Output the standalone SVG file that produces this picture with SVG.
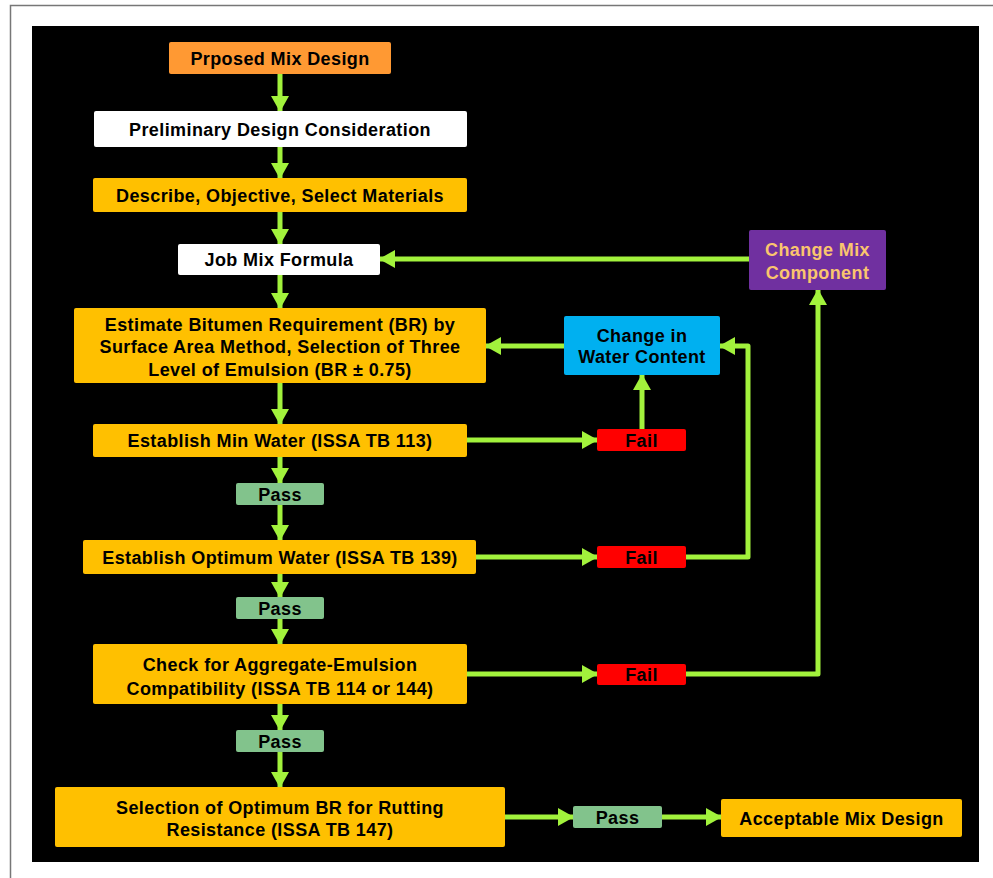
<svg xmlns="http://www.w3.org/2000/svg" width="993" height="878" viewBox="0 0 993 878">
<defs>
<style>
.t{font-family:"Liberation Sans",Arial,sans-serif;font-weight:bold;font-size:18px;fill:#000;text-anchor:middle;letter-spacing:0.4px}
.n{stroke:none}
.c{fill:none;stroke:#A2F23C;stroke-width:5;stroke-linejoin:round}
</style>
<marker id="ah" markerUnits="userSpaceOnUse" markerWidth="18" markerHeight="18" viewBox="0 0 16 18" refX="15" refY="9" orient="auto">
<path d="M0,0 L16,9 L0,18 Z" fill="#A2F23C"/>
</marker>
</defs>
<rect x="0" y="0" width="993" height="878" fill="#fff"/>
<path d="M10.5,878 V5.5 H993" fill="none" stroke="#777" stroke-width="1.5"/>
<rect x="32" y="26" width="947" height="836" fill="#000"/>

<g id="connectors">
<path class="c" d="M280,74 V111" marker-end="url(#ah)"/>
<path class="c" d="M280,147 V178" marker-end="url(#ah)"/>
<path class="c" d="M280,212 V244" marker-end="url(#ah)"/>
<path class="c" d="M280,275 V308" marker-end="url(#ah)"/>
<path class="c" d="M280,383 V424" marker-end="url(#ah)"/>
<path class="c" d="M280,457 V483" marker-end="url(#ah)"/>
<path class="c" d="M280,505 V540" marker-end="url(#ah)"/>
<path class="c" d="M280,574 V597" marker-end="url(#ah)"/>
<path class="c" d="M280,619 V644" marker-end="url(#ah)"/>
<path class="c" d="M280,704 V730" marker-end="url(#ah)"/>
<path class="c" d="M280,752 V787" marker-end="url(#ah)"/>
<path class="c" d="M749,259 H380" marker-end="url(#ah)"/>
<path class="c" d="M564,346 H486" marker-end="url(#ah)"/>
<path class="c" d="M467,440 H597" marker-end="url(#ah)"/>
<path class="c" d="M642,429 V375" marker-end="url(#ah)"/>
<path class="c" d="M476,557 H597" marker-end="url(#ah)"/>
<path class="c" d="M686,557 H748 V346 H720" marker-end="url(#ah)"/>
<path class="c" d="M467,674 H597" marker-end="url(#ah)"/>
<path class="c" d="M686,674 H818 V290" marker-end="url(#ah)"/>
<path class="c" d="M505,817 H573" marker-end="url(#ah)"/>
<path class="c" d="M662,817 H721" marker-end="url(#ah)"/>
</g>

<g id="proposed"><rect x="169" y="42" width="222" height="32" rx="2" fill="#FF9933"/><text class="t" x="280" y="64.5">Prposed Mix Design</text></g>
<g id="preliminary"><rect x="94" y="111" width="373" height="36" rx="2" fill="#fff"/><text class="t" x="280" y="135.5">Preliminary Design Consideration</text></g>
<g id="describe"><rect x="93" y="178" width="374" height="34" rx="2" fill="#FFC000"/><text class="t" x="280" y="201.5">Describe, Objective, Select Materials</text></g>
<g id="jobmix"><rect x="178" y="244" width="202" height="31" rx="2" fill="#fff"/><text class="t" x="279" y="266">Job Mix Formula</text></g>
<g id="estimate"><rect x="74" y="308" width="412" height="75" rx="2" fill="#FFC000"/><text class="t" x="280" y="330.5">Estimate Bitumen Requirement (BR) by</text><text class="t" x="280" y="353">Surface Area Method, Selection of Three</text><text class="t" x="280" y="375.5">Level of Emulsion (BR ± 0.75)</text></g>
<g id="minwater"><rect x="93" y="424" width="374" height="33" rx="2" fill="#FFC000"/><text class="t" x="280" y="447">Establish Min Water (ISSA TB 113)</text></g>
<g id="pass1"><rect x="236" y="483" width="88" height="22" rx="2" fill="#82C38C"/><text class="t" x="280" y="500.5">Pass</text></g>
<g id="optwater"><rect x="83" y="540" width="393" height="34" rx="2" fill="#FFC000"/><text class="t" x="280" y="563.5">Establish Optimum Water (ISSA TB 139)</text></g>
<g id="pass2"><rect x="236" y="597" width="88" height="22" rx="2" fill="#82C38C"/><text class="t" x="280" y="614.5">Pass</text></g>
<g id="check"><rect x="93" y="644" width="374" height="60" rx="2" fill="#FFC000"/><text class="t" x="280" y="670.5">Check for Aggregate-Emulsion</text><text class="t" x="280" y="694.5">Compatibility (ISSA TB 114 or 144)</text></g>
<g id="pass3"><rect x="236" y="730" width="88" height="22" rx="2" fill="#82C38C"/><text class="t" x="280" y="747.5">Pass</text></g>
<g id="selection"><rect x="55" y="787" width="450" height="60" rx="2" fill="#FFC000"/><text class="t" x="280" y="813.5">Selection of Optimum BR for Rutting</text><text class="t" x="280" y="835.5">Resistance (ISSA TB 147)</text></g>
<g id="pass4"><rect x="573" y="806" width="89" height="22" rx="2" fill="#82C38C"/><text class="t" x="617.5" y="823.5">Pass</text></g>
<g id="acceptable"><rect x="721" y="799" width="241" height="38" rx="2" fill="#FFC000"/><text class="t" x="841.5" y="824.5">Acceptable Mix Design</text></g>
<g id="changemix"><rect x="749" y="230" width="137" height="60" rx="2" fill="#7030A0"/><text class="t" x="817.5" y="255.5" fill="#FAC56E" style="fill:#FAC56E">Change Mix</text><text class="t" x="817.5" y="278.5" style="fill:#FAC56E">Component</text></g>
<g id="changewater"><rect x="564" y="316" width="156" height="59" rx="2" fill="#00B0F0"/><text class="t" x="642" y="341.5">Change in</text><text class="t" x="642" y="362.5">Water Content</text></g>
<g id="fail1"><rect x="597" y="429" width="89" height="22" rx="2" fill="#FF0000"/><text class="t" x="641.5" y="446.5">Fail</text></g>
<g id="fail2"><rect x="597" y="546" width="89" height="22" rx="2" fill="#FF0000"/><text class="t" x="641.5" y="563.5">Fail</text></g>
<g id="fail3"><rect x="597" y="664" width="89" height="21" rx="2" fill="#FF0000"/><text class="t" x="641.5" y="681">Fail</text></g>
</svg>
